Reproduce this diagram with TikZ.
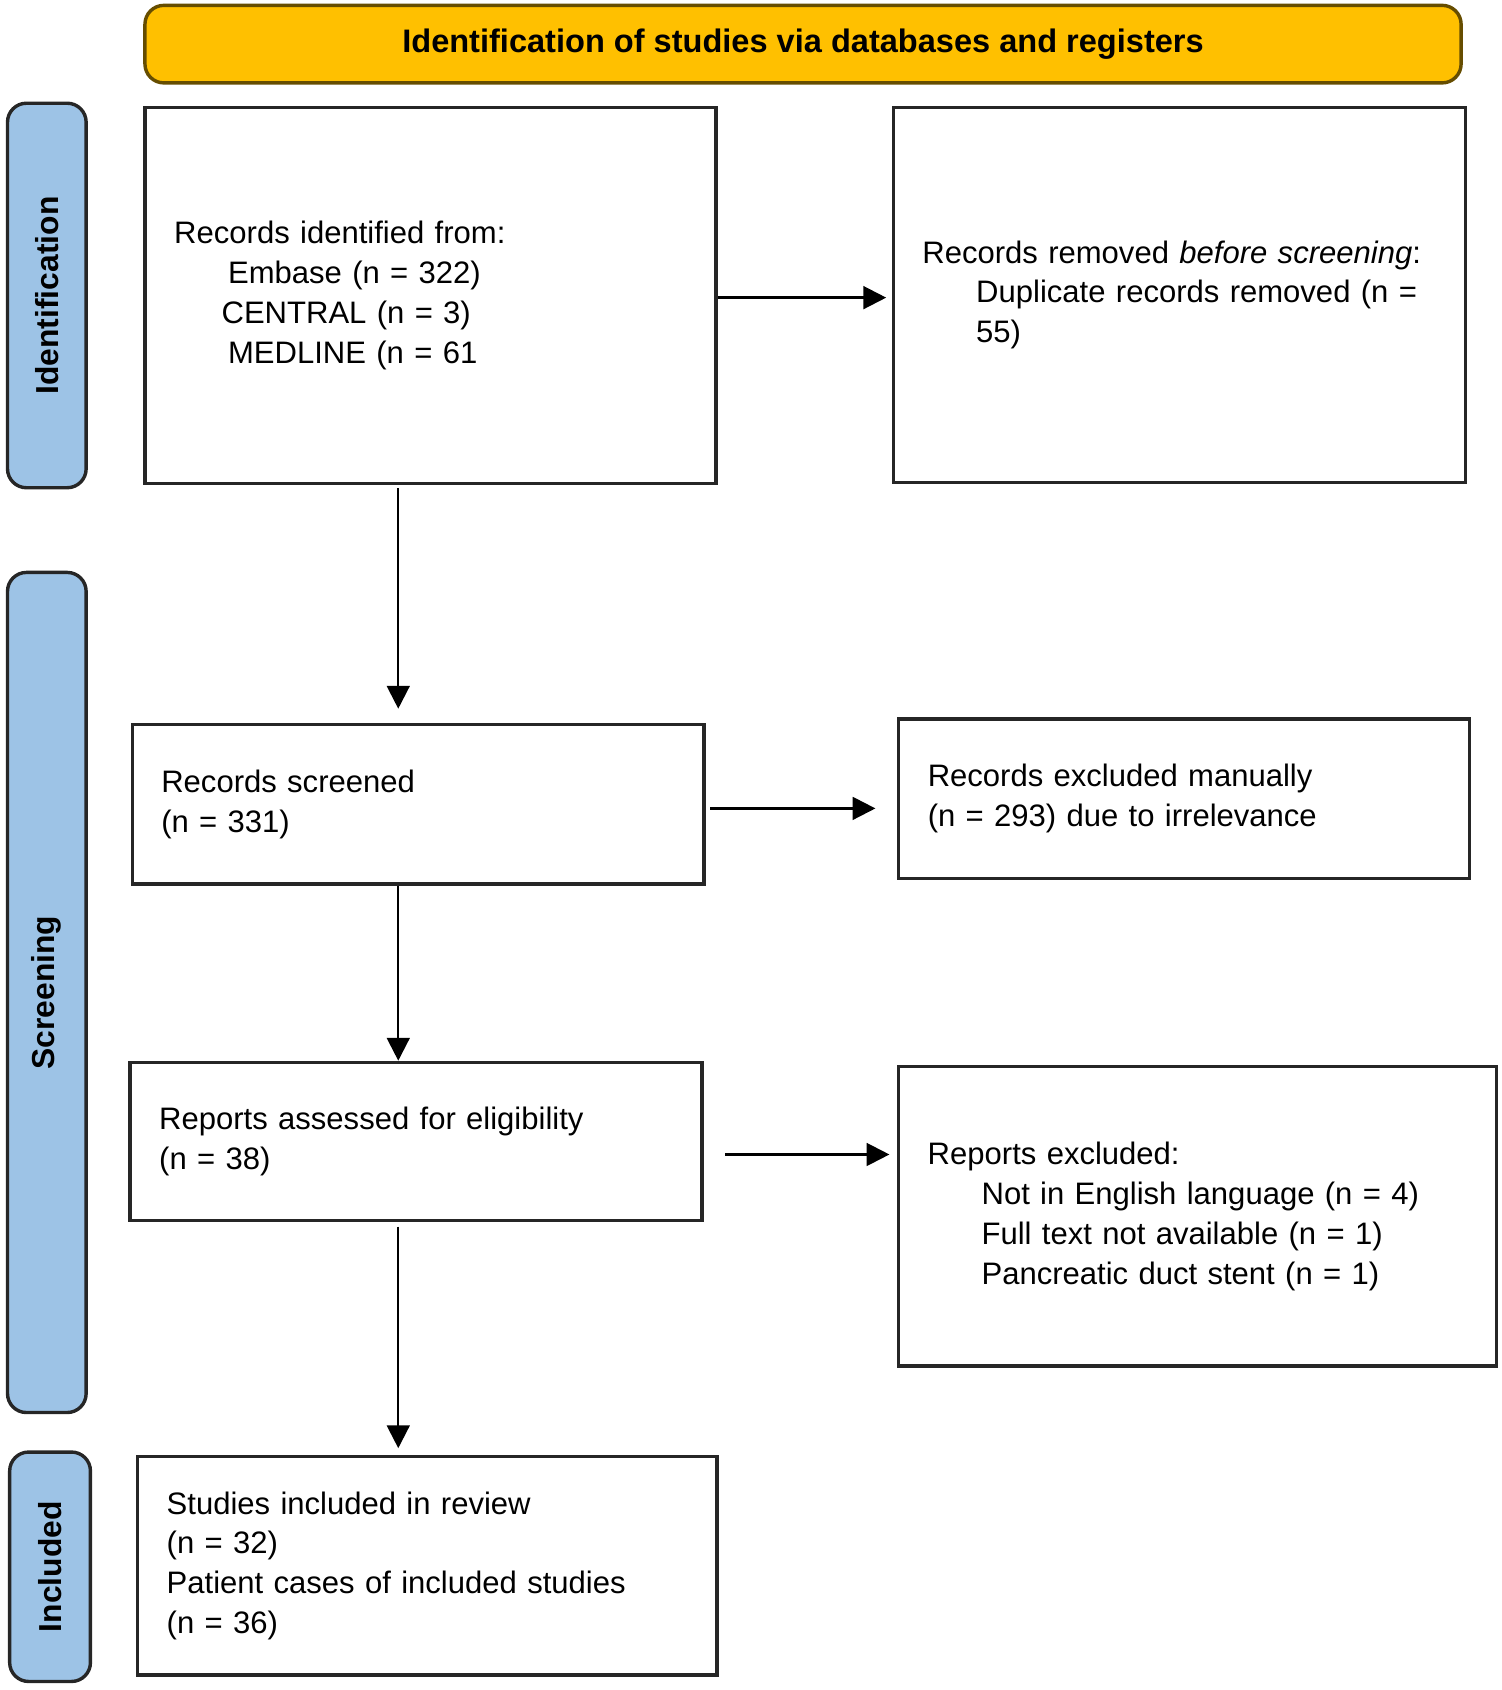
\documentclass[tikz,border=0pt]{standalone}
\usepackage{fontspec}
\setmainfont{Liberation Sans}
\usetikzlibrary{arrows.meta}
\tikzset{box/.style={draw=black!85,line width=0.9pt,inner sep=0pt,align=left,font=\fontsize{8.2}{10.5}\selectfont}}
\tikzset{side/.style={draw=black!85,line width=0.9pt,fill=blue!20!cyan!30!gray!40,fill=sidebl,rounded corners=5pt,inner sep=0pt}}
\tikzset{stage/.style={font=\fontsize{8.4}{9}\selectfont\bfseries,rotate=90}}
\tikzset{arr/.style={-{Triangle[length=6pt,width=6pt]},line width=0.6pt}}
\definecolor{sidebl}{HTML}{9DC3E6}
\definecolor{titleor}{HTML}{FFC000}
\begin{document}
\begin{tikzpicture}[x=0.01cm,y=0.01cm]
\useasboundingbox (0,0) rectangle (1395,-1570);
% title bar and stage labels
\node[side,fill=titleor,draw=black!60!titleor,minimum width=12.22cm,minimum height=0.72cm,font=\fontsize{8.6}{9}\selectfont\bfseries] (title) at (746,-41) {Identification of studies via databases and registers};
\node[side,minimum width=0.73cm,minimum height=3.57cm] (sid) at (43.5,-274.5) {};
\node[stage] at (sid) {Identification};
\node[side,minimum width=0.73cm,minimum height=7.80cm] (sscr) at (43.5,-922) {};
\node[stage] at (sscr) {Screening};
\node[side,minimum width=0.75cm,minimum height=2.13cm] (sinc) at (46.5,-1455.5) {};
\node[stage] at (sinc) {Included};
% boxes
\node[box,minimum width=5.30cm,minimum height=3.49cm,text width=4.76cm] (recid) at (400,-274.5)
  {Records identified from:\\\hspace*{0.5cm}Embase (n = 322)\\\hspace*{0.44cm}CENTRAL (n = 3)\\\hspace*{0.5cm}MEDLINE (n = 61};
\node[box,minimum width=5.31cm,minimum height=3.48cm,text width=4.77cm] (recrm) at (1095.5,-274)
  {Records removed \textit{before screening}:\\\hspace*{0.5cm}\parbox[t]{4.2cm}{Duplicate records removed (n = 55)}};
\node[box,minimum width=5.31cm,minimum height=1.48cm,text width=4.77cm] (scr) at (388.5,-747)
  {Records screened\\(n = 331)};
\node[box,minimum width=5.30cm,minimum height=1.48cm,text width=4.76cm] (excl) at (1100,-742)
  {Records excluded manually\\(n = 293) due to irrelevance};
\node[box,minimum width=5.31cm,minimum height=1.47cm,text width=4.77cm] (elig) at (386.5,-1060.5)
  {Reports assessed for eligibility\\(n = 38)};
\node[box,minimum width=5.55cm,minimum height=2.78cm,text width=5.01cm] (rexcl) at (1112.5,-1130)
  {Reports excluded:\\\hspace*{0.5cm}Not in English language (n = 4)\\\hspace*{0.5cm}Full text not available (n = 1)\\\hspace*{0.5cm}Pancreatic duct stent (n = 1)\\[1.3cm]};
\node[box,minimum width=5.38cm,minimum height=2.03cm,text width=4.84cm] (incl) at (397,-1454.5)
  {Studies included in review\\(n = 32)\\Patient cases of included studies\\(n = 36)};
% connectors
\draw[arr] ([yshift=-0.02cm]recid.east) -- ([yshift=-0.02cm,xshift=-0.05cm]recid.east -| recrm.west);
\draw[arr] ([xshift=-0.30cm,yshift=-0.03cm]recid.south) -- ([xshift=-0.30cm,yshift=0.13cm]recid.south |- scr.north);
\draw[arr] ([xshift=0.04cm,yshift=-0.04cm]scr.east) -- ([xshift=-0.20cm,yshift=-0.04cm]scr.east -| excl.west);
\draw[arr] ([xshift=-0.185cm]scr.south) -- ([xshift=-0.185cm]scr.south |- elig.north);
\draw[arr] ([xshift=0.20cm,yshift=-0.12cm]elig.east) -- ([xshift=-0.07cm,yshift=-0.12cm]elig.east -| rexcl.west);
\draw[arr] ([xshift=-0.165cm,yshift=-0.04cm]elig.south) -- ([xshift=-0.165cm,yshift=0.06cm]elig.south |- incl.north);
\end{tikzpicture}
\end{document}
